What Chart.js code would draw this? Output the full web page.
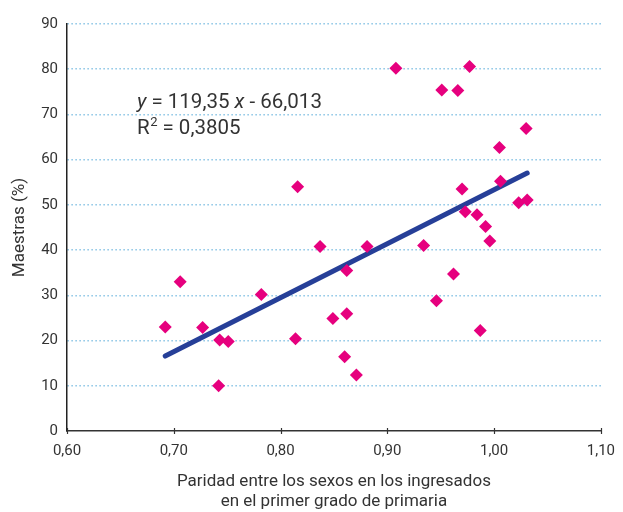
<!DOCTYPE html>
<html lang="es">
<head>
<meta charset="utf-8">
<script src="https://cdn.jsdelivr.net/npm/chart.js@4/dist/chart.umd.min.js"></script>
<style>
    html, body { margin: 0; padding: 0; background: #ffffff; }
    #wrap { width: 623px; height: 512px; }
</style>
</head>
<body>
<div id="wrap"><canvas id="scatterChart" width="623" height="512"></canvas></div>
<script>
// Paridad entre los sexos (ingresados en 1er grado) vs. % de maestras
const paridad = [
    0.692, 0.706, 0.727, 0.743, 0.751, 0.742, 0.782, 0.814, 0.816, 0.837,
    0.881, 0.908, 0.951, 0.966, 0.977, 1.030, 1.005, 1.006, 0.970, 0.973,
    0.984, 0.992, 0.996, 1.023, 1.031, 0.934, 0.862, 0.962, 0.946, 0.849,
    0.862, 0.987, 0.860, 0.871
];
const maestras = [
    23.0, 33.0, 22.9, 20.1, 19.8, 10.0, 30.2, 20.4, 54.0, 40.8,
    40.8, 80.2, 75.4, 75.3, 80.6, 66.9, 62.7, 55.2, 53.5, 48.5,
    47.8, 45.2, 42.0, 50.5, 51.1, 41.0, 35.5, 34.7, 28.8, 24.9,
    25.9, 22.2, 16.4, 12.4
];

// tendencia lineal: y = 119,35 x - 66,013
const pendiente = 119.35;
const intercepto = -66.013;
const r2 = '0,3805';

const xTicks = [0.60, 0.70, 0.80, 0.90, 1.00, 1.10];
const yTicks = [0, 10, 20, 30, 40, 50, 60, 70, 80, 90];

const FONT = 'Roboto, "DejaVu Sans", sans-serif';
const TEXT = '#333333';

const puntos = paridad.map((x, i) => ({ x: x, y: maestras[i] }));
const xMin = Math.min(...paridad);
const xMax = Math.max(...paridad);
const tendencia = [xMin, xMax].map(x => ({ x: x, y: pendiente * x + intercepto }));

function fmt(v, dec) {
    return v.toFixed(dec).replace('.', ',');
}

// texto de la ecuación sobre el gráfico
const ecuacionPlugin = {
    id: 'ecuacion',
    afterDatasetsDraw(chart) {
        const ctx = chart.ctx;
        const area = chart.chartArea;
        const x0 = area.left + 70;
        const y1 = area.top + 84;
        const y2 = area.top + 110;
        ctx.save();
        ctx.fillStyle = TEXT;
        ctx.textBaseline = 'alphabetic';
        ctx.textAlign = 'left';

        let x = x0;
        ctx.font = 'italic 20.5px ' + FONT;
        ctx.fillText('y', x, y1);
        x += ctx.measureText('y').width;
        ctx.font = '20.5px ' + FONT;
        const p1 = ' = ' + fmt(pendiente, 2) + ' ';
        ctx.fillText(p1, x, y1);
        x += ctx.measureText(p1).width;
        ctx.font = 'italic 20.5px ' + FONT;
        ctx.fillText('x', x, y1);
        x += ctx.measureText('x').width;
        ctx.font = '20.5px ' + FONT;
        ctx.fillText(' - ' + fmt(-intercepto, 3), x, y1);

        x = x0;
        ctx.fillText('R', x, y2);
        x += ctx.measureText('R').width;
        ctx.font = '13px ' + FONT;
        ctx.fillText('2', x + 0.5, y2 - 8);
        x += ctx.measureText('2').width + 0.5;
        ctx.font = '20.5px ' + FONT;
        ctx.fillText(' = ' + r2, x, y2);
        ctx.restore();
    }
};

// marcas del eje x que cruzan la línea del eje
const marcasPlugin = {
    id: 'marcas',
    afterDraw(chart) {
        const ctx = chart.ctx;
        const xs = chart.scales.x;
        const yBase = chart.chartArea.bottom;
        ctx.save();
        ctx.strokeStyle = '#333333';
        ctx.lineWidth = 1.2;
        xTicks.forEach(v => {
            const px = Math.round(xs.getPixelForValue(v)) + 0.5;
            ctx.beginPath();
            ctx.moveTo(px, yBase - 3);
            ctx.lineTo(px, yBase + 3);
            ctx.stroke();
        });
        ctx.restore();
    }
};

const ctx = document.getElementById('scatterChart').getContext('2d');

new Chart(ctx, {
    type: 'scatter',
    data: {
        datasets: [
            {
                type: 'line',
                label: 'Tendencia',
                data: tendencia,
                borderColor: '#263f98',
                borderWidth: 5,
                borderCapStyle: 'round',
                pointRadius: 0,
                fill: false,
                order: 2
            },
            {
                label: 'Países',
                data: puntos,
                pointStyle: 'rectRot',
                pointRadius: 6.5,
                backgroundColor: '#e6007e',
                borderColor: '#e6007e',
                borderWidth: 0,
                order: 1
            }
        ]
    },
    options: {
        responsive: false,
        animation: false,
        layout: { padding: { top: 24, right: 21, bottom: 0, left: 0 } },
        plugins: {
            legend: { display: false },
            tooltip: { enabled: false }
        },
        scales: {
            x: {
                type: 'linear',
                min: 0.6,
                max: 1.1,
                afterBuildTicks: scale => { scale.ticks = xTicks.map(v => ({ value: v })); },
                afterFit: scale => { scale.height = 81; },
                grid: {
                    drawOnChartArea: false,
                    drawTicks: true,
                    tickLength: 3,
                    tickColor: 'rgba(0,0,0,0)',
                    tickWidth: 1
                },
                border: { display: true, color: '#333333', width: 1.5 },
                ticks: {
                    padding: 8,
                    color: TEXT,
                    font: { family: FONT, size: 15 },
                    callback: v => fmt(v, 2)
                },
                title: {
                    display: true,
                    text: ['Paridad entre los sexos en los ingresados', 'en el primer grado de primaria'],
                    color: TEXT,
                    font: { family: FONT, size: 17, lineHeight: 1.18 },
                    padding: { top: 0, bottom: 0 }
                }
            },
            y: {
                min: 0,
                max: 90,
                afterBuildTicks: scale => { scale.ticks = yTicks.map(v => ({ value: v })); },
                afterFit: scale => { scale.width = 67; },
                grid: {
                    drawTicks: false,
                    color: c => (c.tick && c.tick.value === 0) ? 'rgba(0,0,0,0)' : '#6db6de',
                    lineWidth: 1.5
                },
                border: { display: true, color: '#222222', width: 1.5, dash: [1.2, 2.8] },
                ticks: {
                    padding: 9,
                    color: TEXT,
                    font: { family: FONT, size: 15 }
                },
                title: {
                    display: true,
                    text: 'Maestras (%)',
                    color: TEXT,
                    font: { family: FONT, size: 17 },
                    padding: { top: 10, bottom: 0 }
                }
            }
        }
    },
    plugins: [ecuacionPlugin, marcasPlugin]
});
</script>
</body>
</html>
